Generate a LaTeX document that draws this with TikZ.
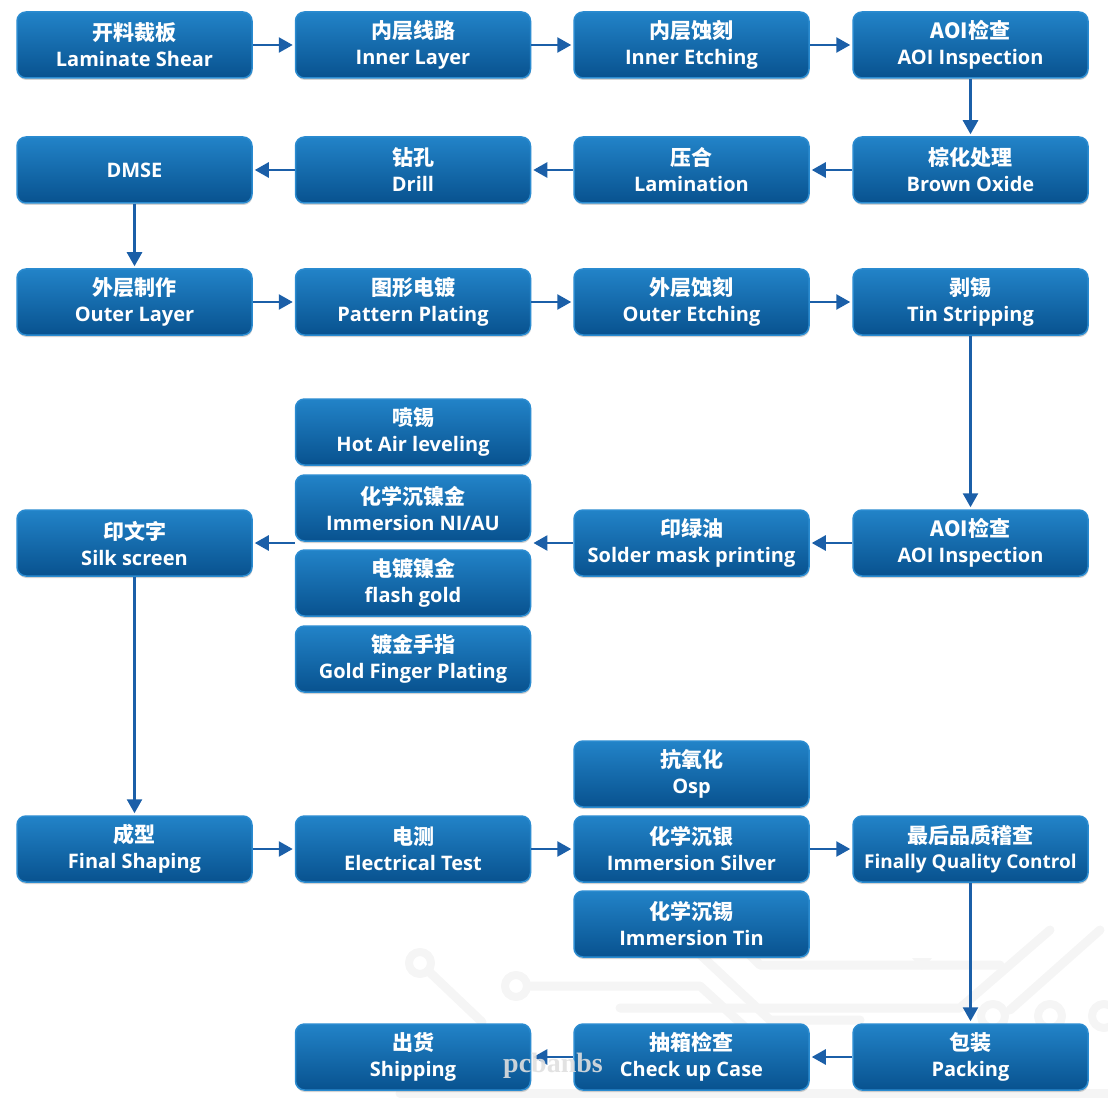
\documentclass[tikz,border=0pt]{standalone}
\usepackage{fontspec}
\setmainfont{Open Sans}
\newfontfamily\cjk{Noto Sans CJK SC}
\newfontfamily\wmfont{Liberation Serif}
\usetikzlibrary{arrows.meta,shadows,fit}
\definecolor{boxtop}{HTML}{2283C8}
\definecolor{boxbot}{HTML}{08528F}
\definecolor{boxedge}{HTML}{2A8BD0}
\definecolor{flowblue}{HTML}{1B5FA8}
\newcommand{\zh}[1]{{\cjk\bfseries\fontsize{21}{26}\selectfont #1}}
\tikzset{
  procbox/.style={rectangle, rounded corners=9pt, minimum width=235pt, minimum height=66pt,
    top color=boxtop, bottom color=boxbot, draw=boxedge, line width=1.5pt,
    drop shadow={opacity=0.35, shadow xshift=0.5pt, shadow yshift=-2pt},
    text=white, align=center, inner sep=0pt,
    font=\fontsize{20}{26}\selectfont\bfseries},
  flow/.style={draw=flowblue, line width=2.6pt, shorten >=2pt,
    -{Triangle[length=14pt,width=15pt]}},
  trace/.style={gray!8, line width=9pt, line cap=round, line join=round},
  pad/.style={draw=gray!8, line width=8pt, fill=white}
}
\begin{document}
\begin{tikzpicture}[x=1pt,y=-1pt]
\useasboundingbox (0,0) rectangle (1108,1099);
% faint circuit traces in the background
\draw[trace] (420,963) -- (482,1022);
\draw[trace] (516,986) -- (700,986) -- (770,1050);
\draw[trace] (690,945) -- (770,1020) -- (860,1020);
\draw[trace] (740,945) -- (760,965) -- (1000,965);
\draw[trace] (620,1008) -- (960,1008) -- (1050,930);
\draw[trace] (1010,1010) -- (1100,930);
\draw[trace] (400,1093) -- (1108,1093);
\draw[pad] (420,963) circle (11pt);
\draw[pad] (516,986) circle (11pt);
\draw[pad] (993,1016) circle (12pt);
\draw[pad] (1050,1016) circle (12pt);
\draw[pad] (1104,1016) circle (12pt);
\fill[gray!8] (912,958) -- (932,958) -- (922,970) -- cycle;
% row 1
\node[procbox] (shear) at (134.5,45) {\zh{开料裁板}\\Laminate Shear};
\node[procbox] (inner) at (413,45) {\zh{内层线路}\\Inner Layer};
\node[procbox] (ietch) at (691.5,45) {\zh{内层蚀刻}\\Inner Etching};
\node[procbox] (aoia) at (970.5,45) {\zh{AOI检查}\\AOI Inspection};
% row 2
\node[procbox] (dmse) at (134.5,170) {DMSE};
\node[procbox] (drill) at (413,170) {\zh{钻孔}\\Drill};
\node[procbox] (lam) at (691.5,170) {\zh{压合}\\Lamination};
\node[procbox] (brown) at (970.5,170) {\zh{棕化处理}\\Brown Oxide};
% row 3
\node[procbox] (outer) at (134.5,302) {\zh{外层制作}\\Outer Layer};
\node[procbox] (pattern) at (413,302) {\zh{图形电镀}\\Pattern Plating};
\node[procbox] (oetch) at (691.5,302) {\zh{外层蚀刻}\\Outer Etching};
\node[procbox] (tin) at (970.5,302) {\zh{剥锡}\\Tin Stripping};
% row 4
\node[procbox] (silk) at (134.5,543) {\zh{印文字}\\Silk screen};
\node[procbox] (hasl) at (413,432) {\zh{喷锡}\\Hot Air leveling};
\node[procbox] (enig) at (413,508) {\zh{化学沉镍金}\\Immersion NI/AU};
\node[procbox] (flash) at (413,583) {\zh{电镀镍金}\\flash gold};
\node[procbox] (finger) at (413,659) {\zh{镀金手指}\\Gold Finger Plating};
\node[fit=(hasl)(finger), inner sep=0pt] (finish) {};
\node[procbox] (solder) at (691.5,543) {\zh{印绿油}\\Solder mask printing};
\node[procbox] (aoib) at (970.5,543) {\zh{AOI检查}\\AOI Inspection};
% row 5
\node[procbox] (shaping) at (134.5,849) {\zh{成型}\\Final Shaping};
\node[procbox] (etest) at (413,849) {\zh{电测}\\Electrical Test};
\node[procbox] (osp) at (691.5,774) {\zh{抗氧化}\\Osp};
\node[procbox] (silver) at (691.5,849) {\zh{化学沉银}\\Immersion Silver};
\node[procbox] (imtin) at (691.5,924) {\zh{化学沉锡}\\Immersion Tin};
\node[procbox, font=\fontsize{19}{25}\selectfont\bfseries] (fqc) at (970.5,849) {\zh{最后品质稽查}\\Finally Quality Control};
% row 6
\node[procbox] (shipping) at (413,1057) {\zh{出货}\\Shipping};
\node[procbox] (checkup) at (691.5,1057) {\zh{抽箱检查}\\Check up Case};
\node[procbox] (packing) at (970.5,1057) {\zh{包装}\\Packing};
% connectors
\draw[flow] (shear) -- (inner);
\draw[flow] (inner) -- (ietch);
\draw[flow] (ietch) -- (aoia);
\draw[flow] (aoia) -- (brown);
\draw[flow] (brown) -- (lam);
\draw[flow] (lam) -- (drill);
\draw[flow] (drill) -- (dmse);
\draw[flow] (dmse) -- (outer);
\draw[flow] (outer) -- (pattern);
\draw[flow] (pattern) -- (oetch);
\draw[flow] (oetch) -- (tin);
\draw[flow] (tin) -- (aoib);
\draw[flow] (aoib) -- (solder);
\draw[flow] (solder.west) -- (solder.west -| finish.east);
\draw[flow] (silk.east -| finish.west) -- (silk.east);
\draw[flow] (silk) -- (shaping);
\draw[flow] (shaping) -- (etest);
\draw[flow] (etest) -- (silver);
\draw[flow] (silver) -- (fqc);
\draw[flow] (fqc) -- (packing);
\draw[flow] (packing) -- (checkup);
\draw[flow] (checkup) -- (shipping);
% watermark
\node[text=gray!25, opacity=0.9, font=\wmfont\bfseries\fontsize{28}{28}\selectfont] (mark) at (553,1066) {pcbanbs};
\end{tikzpicture}
\end{document}
